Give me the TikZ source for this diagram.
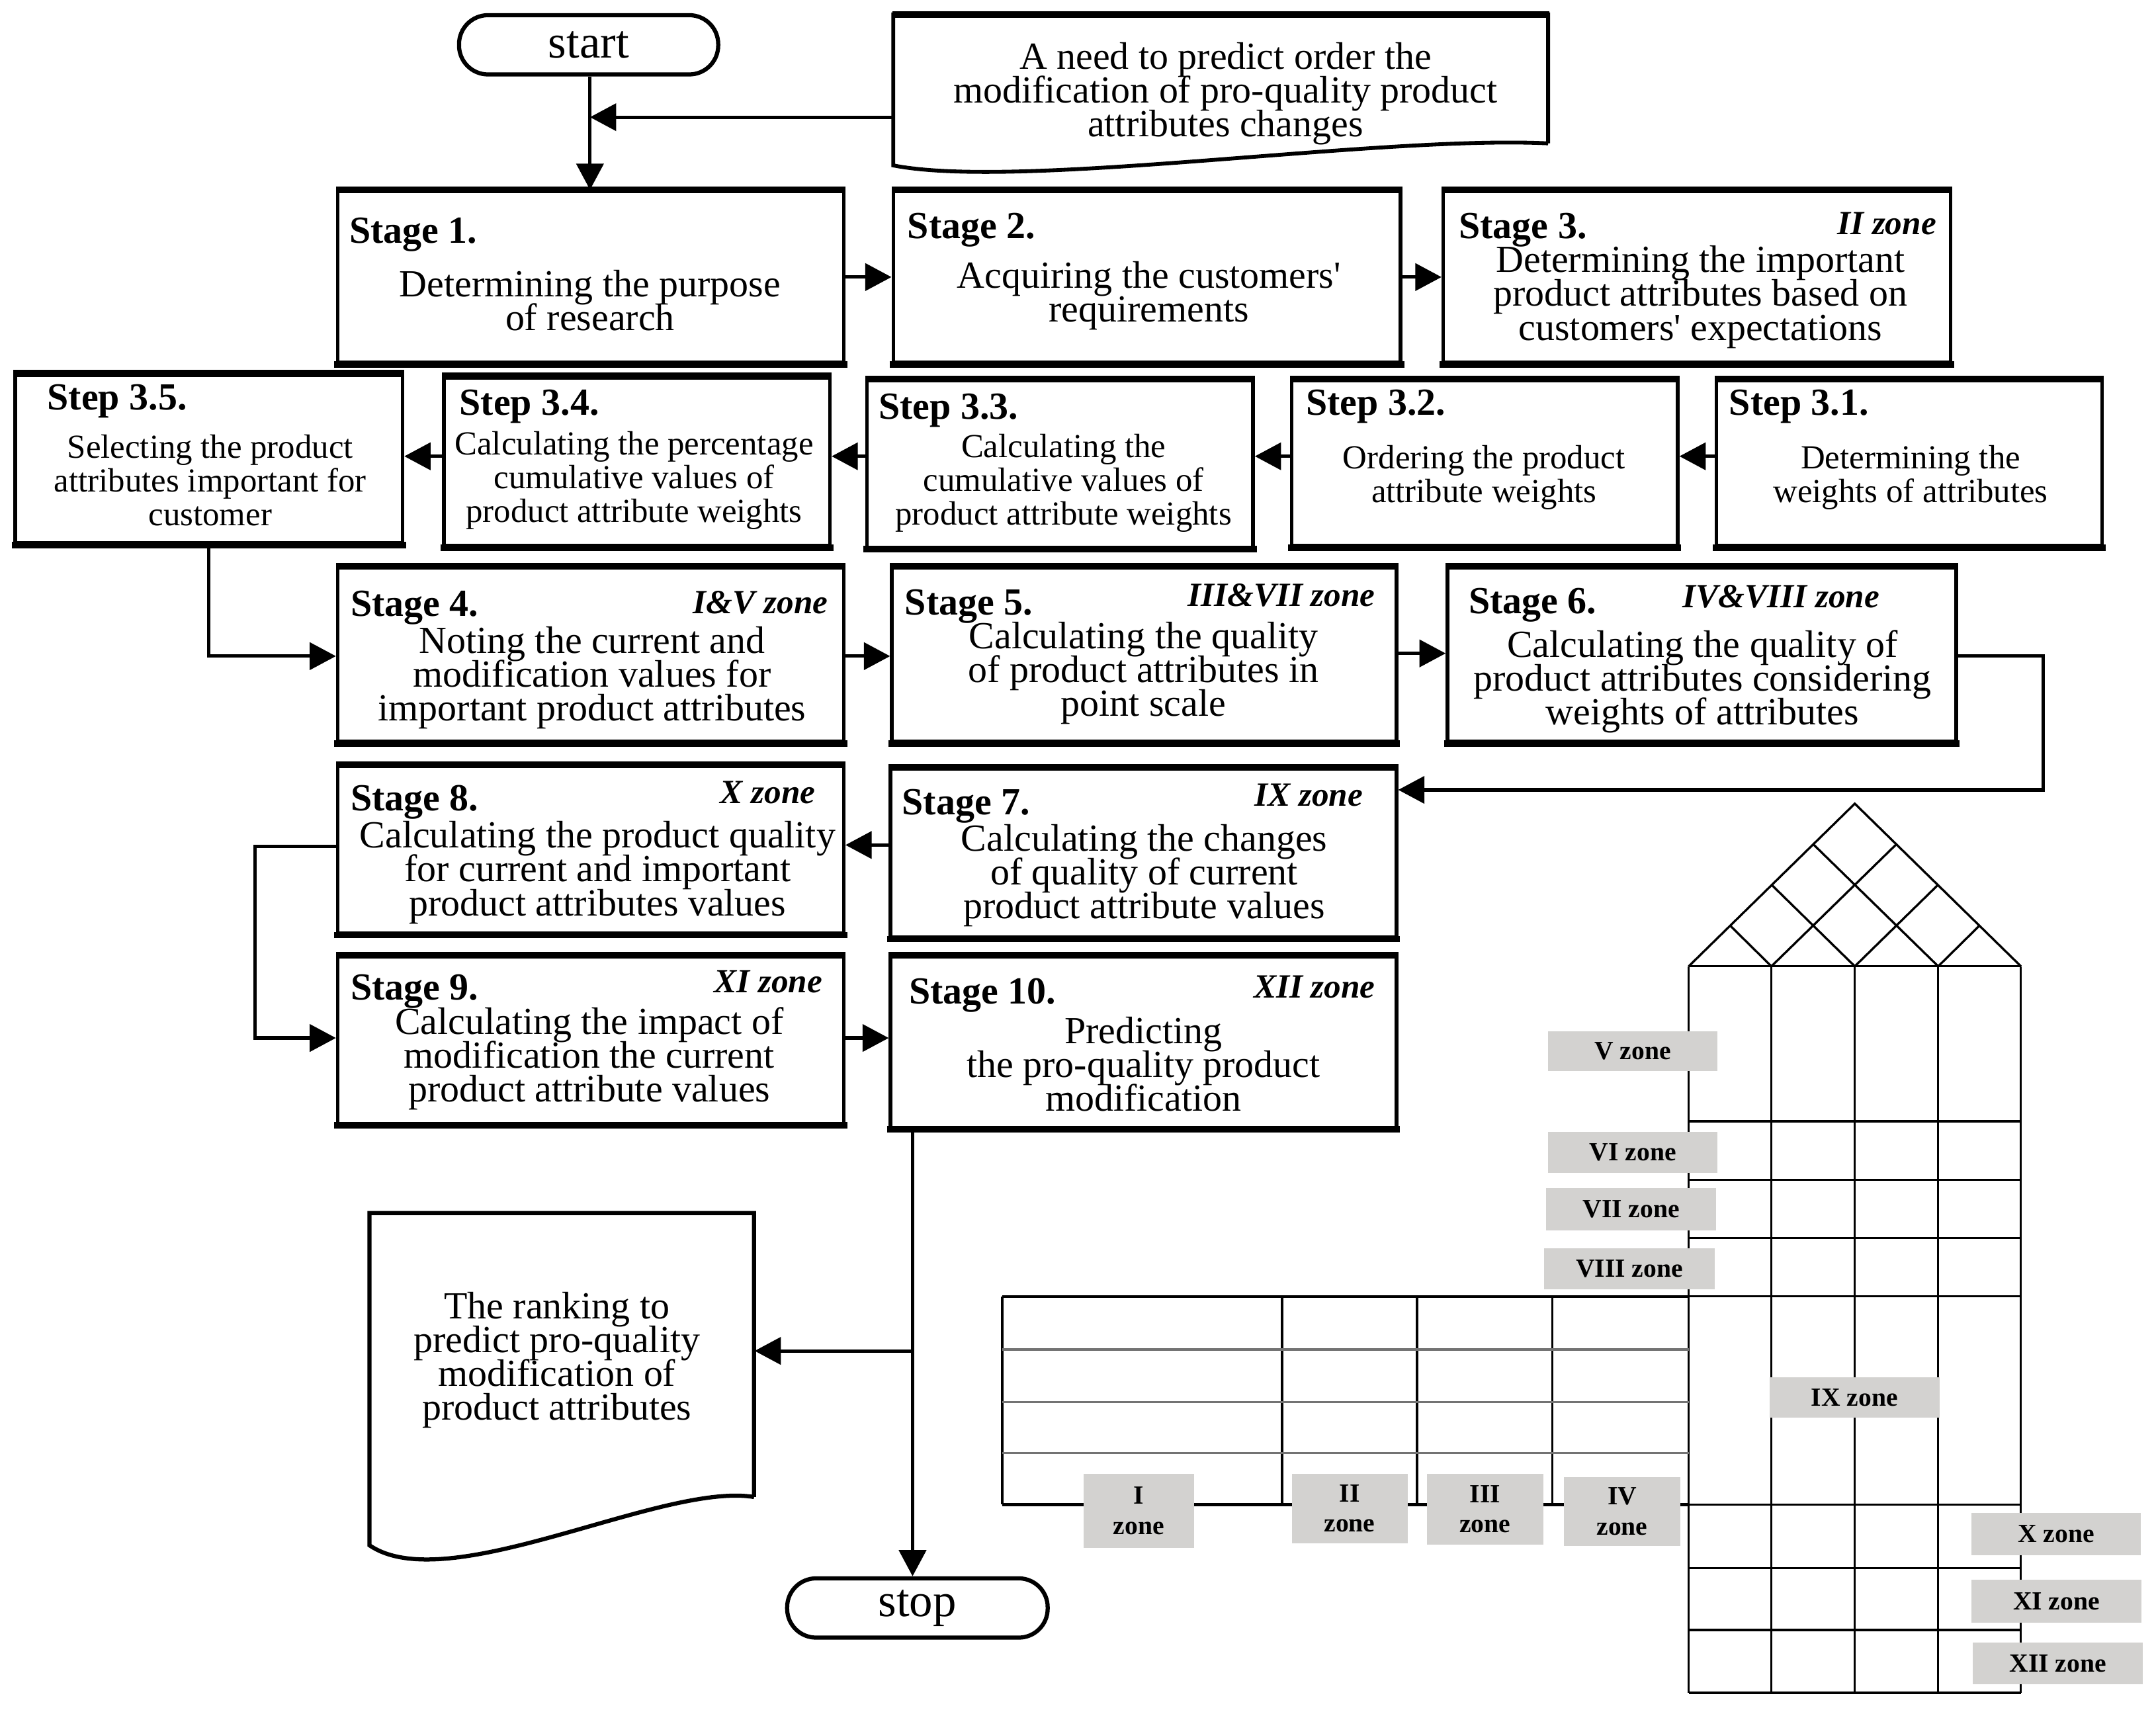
\documentclass[tikz,border=0pt]{standalone}
\usepackage{fontspec}
\setmainfont{Liberation Serif}
\usetikzlibrary{arrows.meta,fit,calc}
\definecolor{zonegray}{RGB}{211,210,208}
\newcommand\tightls{\lineskiplimit-20pt\relax}
\newcommand\stbox[5]{%
  \node[box, minimum width={(#4-#2)*0.5pt}, minimum height={(#5-#3)*0.5pt}] (#1) at ({(#2+#4)/2},{(#3+#5)/2}) {};
  \draw[edge] (#1.north west) -- (#1.north east) (#1.south west) -- (#1.south east);}
\newcommand\zbox[6]{%
  \node[zlab, minimum width={(#4-#2)*0.5pt}, minimum height={(#5-#3)*0.5pt}] (#1) at ({(#2+#4)/2},{(#3+#5)/2}) {#6};}
\begin{document}
\begin{tikzpicture}[x=0.5pt,y=-0.5pt,
  box/.style={draw, line width=1.3pt, inner sep=0pt},
  edge/.style={line width=2.3pt, shorten <=-0.65pt, shorten >=-0.65pt},
  body/.style={align=center, inner sep=0pt, font=\fontsize{13.9}{12.25}\selectfont\tightls},
  sbody/.style={align=center, inner sep=0pt, font=\fontsize{12.2}{12.25}\selectfont\tightls},
  ttl/.style={anchor=west, inner sep=0pt, font=\fontsize{13.9}{14}\selectfont\bfseries},
  zn/.style={inner sep=0pt, font=\fontsize{12.3}{14}\selectfont\bfseries\itshape},
  arr/.style={line width=1.25pt, -{Triangle[length=9.5pt,width=9.8pt]}},
  hq/.style={line width=0.8pt},
  zlab/.style={fill=zonegray, inner sep=0pt, align=center, font=\fontsize{9.5}{11}\selectfont\bfseries},
  term/.style={draw, line width=1.5pt, rounded corners=10.5pt, inner sep=0pt, font=\fontsize{17}{17}\selectfont},
  doc/.style={line width=1.4pt},
]
\useasboundingbox (0,0) rectangle (1564,1243);

% ---------- terminals ----------
\node[term, minimum width=94pt, minimum height=21.5pt] (start) at (427,32.5) {start};
\node[term, minimum width=94.5pt, minimum height=21.5pt] (stop) at (665.5,1166.5) {stop};

% ---------- input document ----------
\draw[doc] (1123,104) -- (1123,10.5) -- (648,10.5) -- (648,120) .. controls (740,138) and (1000,98) .. (1123,104);
\draw[line width=2.3pt] (647.3,10.5) -- (1123.7,10.5);
\node[inner sep=0pt, fit={(648,10.5)(1123,120)}] (need) {};
\node[body] (needtxt) at (889,68) {A need to predict order the\\modification of pro-quality product\\attributes changes};

% ---------- output document ----------
\draw[line width=1.5pt] (547,1086) -- (547,880) -- (268,880) -- (268,1121) .. controls (325,1160) and (480,1075) .. (547,1086);
\node[inner sep=0pt, fit={(268,880)(547,1121)}] (outdoc) {};
\node[body] (outtxt) at (404,986.5) {The ranking to\\predict pro-quality\\modification of\\product attributes};

% ---------- row 1 ----------
\stbox{s1}{245}{139}{612}{263}
\node[ttl] (s1t) at (253,170) {Stage 1.};
\node[body] (s1b) at (428,218) {Determining the purpose\\of research};

\stbox{s2}{648}{139}{1016}{263}
\node[ttl] (s2t) at (658,167) {Stage 2.};
\node[body] (s2b) at (833.5,214.5) {Acquiring the customers\textquotesingle\\requirements};

\stbox{s3}{1047}{139}{1415}{263}
\node[ttl] (s3t) at (1058,167) {Stage 3.};
\node[zn, anchor=east] (s3z) at (1405,162) {II zone};
\node[body] (s3b) at (1233.5,215.5) {Determining the important\\product attributes based on\\customers\textquotesingle{} expectations};

% ---------- row 2 (steps) ----------
\stbox{st31}{1245}{276}{1525}{396}
\node[ttl] (st31t) at (1254,295) {Step 3.1.};
\node[sbody] (st31b) at (1386,346.5) {Determining the\\weights of attributes};

\stbox{st32}{937}{276}{1217}{396}
\node[ttl] (st32t) at (947,295) {Step 3.2.};
\node[sbody] (st32b) at (1076.5,346.5) {Ordering the product\\attribute weights};

\stbox{st33}{629}{276}{909}{397}
\node[ttl] (st33t) at (637,298) {Step 3.3.};
\node[sbody] (st33b) at (771.5,350.5) {Calculating the\\cumulative values of\\product attribute weights};

\stbox{st34}{322}{274}{602}{396}
\node[ttl] (st34t) at (333,295) {Step 3.4.};
\node[sbody] (st34b) at (460,348.5) {Calculating the percentage\\cumulative values of\\product attribute weights};

\stbox{st35}{11}{272}{292}{394}
\node[ttl] (st35t) at (34,291) {Step 3.5.};
\node[sbody] (st35b) at (152.5,348.5) {Selecting the product\\attributes important for\\customer};

% ---------- row 3 ----------
\stbox{s4}{245}{412}{612}{538}
\node[ttl] (s4t) at (254,441) {Stage 4.};
\node[zn, anchor=east] (s4z) at (601,437) {I\&V zone};
\node[body] (s4b) at (429.5,491.5) {Noting the current and\\modification values for\\important product attributes};

\stbox{s5}{647}{412}{1013}{538}
\node[ttl] (s5t) at (656,440) {Stage 5.};
\node[zn, anchor=east] (s5z) at (998,432) {III\&VII zone};
\node[body] (s5b) at (829.5,488.5) {Calculating the quality\\of product attributes in\\point scale};

\stbox{s6}{1050}{412}{1419}{538}
\node[ttl] (s6t) at (1065,439) {Stage 6.};
\node[zn] (s6z) at (1292,433) {IV\&VIII zone};
\node[body] (s6b) at (1235,494.5) {Calculating the quality of\\product attributes considering\\weights of attributes};

% ---------- row 4 ----------
\stbox{s8}{245}{556}{612}{677}
\node[ttl] (s8t) at (254,582) {Stage 8.};
\node[zn, anchor=east] (s8z) at (592,575) {X zone};
\node[body] (s8b) at (433.5,633) {Calculating the product quality\\for current and important\\product attributes values};

\stbox{s7}{646}{558}{1013}{680}
\node[ttl] (s7t) at (654,585) {Stage 7.};
\node[zn, anchor=east] (s7z) at (989,577) {IX zone};
\node[body] (s7b) at (830,635) {Calculating the changes\\of quality of current\\product attribute values};

% ---------- row 5 ----------
\stbox{s9}{245}{694}{612}{815}
\node[ttl] (s9t) at (254,719) {Stage 9.};
\node[zn, anchor=east] (s9z) at (597,712) {XI zone};
\node[body] (s9b) at (427.5,768) {Calculating the impact of\\modification the current\\product attribute values};

\stbox{s10}{646}{694}{1013}{818}
\node[ttl] (s10t) at (659,722) {Stage 10.};
\node[zn, anchor=east] (s10z) at (998,716) {XII zone};
\node[body] (s10b) at (829.5,772) {Predicting\\the pro-quality product\\modification};

% ---------- connectors ----------
\coordinate (j1) at (428,85);
\coordinate (r2) at (0,331);
\coordinate (r3) at (0,476);
\coordinate (r3b) at (0,474);
\coordinate (c6) at (1482,573);
\coordinate (r4) at (0,613);
\coordinate (k8) at (185,614);
\coordinate (r5) at (0,753);
\coordinate (k10) at (662,980);

\draw[arr] (start.south -| j1) -- (s1.north -| j1);
\draw[arr] (j1 -| need.west) -- (j1);
\draw[arr] (s1.east) -- (s2.west);
\draw[arr] (s2.east) -- (s3.west);
\draw[arr] (r2 -| st31.west) -- (r2 -| st32.east);
\draw[arr] (r2 -| st32.west) -- (r2 -| st33.east);
\draw[arr] (r2 -| st33.west) -- (r2 -| st34.east);
\draw[arr] (r2 -| st34.west) -- (r2 -| st35.east);
\draw[arr] (st35.south) |- (r3 -| s4.west);
\draw[arr] (r3 -| s4.east) -- (r3 -| s5.west);
\draw[arr] (r3b -| s5.east) -- (r3b -| s6.west);
\draw[arr] (r3 -| s6.east) -| (c6) -- (c6 -| s7.east);
\draw[arr] (r4 -| s7.west) -- (r4 -| s8.east);
\draw[arr] (k8 -| s8.west) -- (k8) |- (r5 -| s9.west);
\draw[arr] (r5 -| s9.east) -- (r5 -| s10.west);
\draw[arr] (s10.south -| k10) -- (stop.north -| k10);
\draw[arr] (k10) -- (k10 -| outdoc.east);

% ---------- house of quality ----------
\draw[hq] (1225,701) -- (1345.5,583) -- (1466,701);
\draw[hq] (1255.1,671.5) -- (1285,701) -- (1375.6,612.5);
\draw[hq] (1285.25,642) -- (1345.5,701) -- (1405.75,642);
\draw[hq] (1315.4,612.5) -- (1406,701) -- (1435.9,671.5);
\foreach \x in {1225,1285,1345.5,1406,1466} \draw[hq] (\x,701) -- (\x,1228);
\foreach \y in {701,813.5,856,898,940.5,1091.5,1137.5,1182.5,1228} \draw[hq] (1225,\y) -- (1466,\y);
\draw[line width=1pt] (727,940.5) -- (1225,940.5) (727,1091.5) -- (1225,1091.5);
\draw[hq] (727,940.5) -- (727,1091.5);
\foreach \x in {930,1028,1126} \draw[hq] (\x,940.5) -- (\x,1091.5);
\foreach \y in {979,1017,1054} \draw[hq, black!55] (727,\y) -- (1225,\y);

% ---------- zone labels ----------
\zbox{zV}{1123}{748}{1246}{777}{V zone}
\zbox{zVI}{1123}{821}{1246}{851}{VI zone}
\zbox{zVII}{1121.5}{862}{1245}{892.5}{VII zone}
\zbox{zVIII}{1120}{905.5}{1244}{935.5}{VIII zone}
\zbox{zIX}{1283.5}{999}{1407}{1028.5}{IX zone}
\zbox{zX}{1430}{1097.5}{1553}{1128}{X zone}
\zbox{zXI}{1430}{1146}{1553.5}{1177}{XI zone}
\zbox{zXII}{1431}{1191.5}{1554.5}{1222}{XII zone}
\zbox{zI}{786}{1069}{866}{1123}{I\\zone}
\zbox{zII}{937}{1069}{1021}{1119.5}{II\\zone}
\zbox{zIII}{1035}{1069}{1119.5}{1120.5}{III\\zone}
\zbox{zIV}{1134.5}{1071.5}{1219}{1121.5}{IV\\zone}
\end{tikzpicture}
\end{document}
